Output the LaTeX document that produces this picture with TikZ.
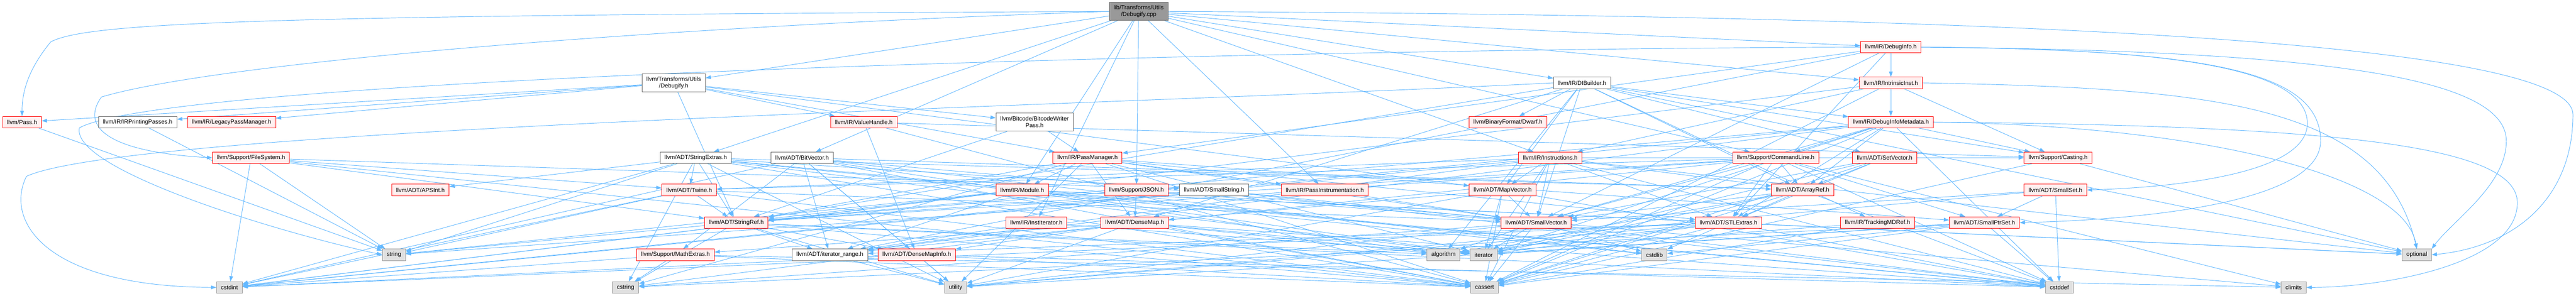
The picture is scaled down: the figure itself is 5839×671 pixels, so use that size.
\documentclass[tikz,border=0pt]{standalone}
\usepackage{fontspec}
\setmainfont{Liberation Sans}
\usetikzlibrary{arrows.meta, backgrounds}

\definecolor{edgeblue}{HTML}{63B8FF}
\definecolor{hdrred}{HTML}{FF0000}
\definecolor{hdrfill}{HTML}{FFF0F0}
\definecolor{docgray}{HTML}{666666}
\definecolor{sysline}{HTML}{999999}
\definecolor{sysfill}{HTML}{E0E0E0}

\begin{document}
\begin{tikzpicture}[
    x=1pt, y=-1pt,
    block/.style={draw, rectangle, line width=1.1pt, minimum height=26pt, inner xsep=10pt, inner ysep=2pt, font=\fontsize{13.3}{15.5}\selectfont, align=center},
    hdr/.style={block, draw=hdrred, fill=hdrfill},
    doc/.style={block, draw=docgray, fill=white},
    sys/.style={block, draw=sysline, fill=sysfill},
    rootbox/.style={block, draw=docgray, fill=sysline, minimum height=41pt},
    tall/.style={minimum height=41pt},
    arrow/.style={-{Triangle[length=12pt,width=8.5pt]}, draw=edgeblue, line width=1.1pt}
]
\useasboundingbox (0,0) rectangle (5839,671);

% Root file
\node[rootbox] (debugifycpp) at (2581,26) {lib/Transforms/Utils\\/Debugify.cpp};

% Direct includes
\node[hdr] (debuginfo) at (4286,107) {llvm/IR/DebugInfo.h};
\node[doc, tall] (debugifyh) at (1527,188) {llvm/Transforms/Utils\\/Debugify.h};
\node[doc] (dibuilder) at (3586,188) {llvm/IR/DIBuilder.h};
\node[hdr] (intrinsicinst) at (4286,188) {llvm/IR/IntrinsicInst.h};

% IR and pass headers
\node[hdr] (pass) at (50,277) {llvm/Pass.h};
\node[doc] (irprinting) at (312,277) {llvm/IR/IRPrintingPasses.h};
\node[hdr] (legacypm) at (525,277) {llvm/IR/LegacyPassManager.h};
\node[hdr] (valuehandle) at (1958,277) {llvm/IR/ValueHandle.h};
\node[doc, tall] (bcwriter) at (2345,277) {llvm/Bitcode/BitcodeWriter\\Pass.h};
\node[hdr] (dwarf) at (3418,277) {llvm/BinaryFormat/Dwarf.h};
\node[hdr] (dimetadata) at (4286,277) {llvm/IR/DebugInfoMetadata.h};

\node[hdr] (filesystem) at (569,358) {llvm/Support/FileSystem.h};
\node[doc] (stringextras) at (1577,358) {llvm/ADT/StringExtras.h};
\node[doc] (bitvector) at (1818,358) {llvm/ADT/BitVector.h};
\node[hdr] (passmanager) at (2465,358) {llvm/IR/PassManager.h};
\node[hdr] (instructions) at (3514,358) {llvm/IR/Instructions.h};
\node[hdr] (commandline) at (4025,358) {llvm/Support/CommandLine.h};
\node[hdr] (setvector) at (4272,358) {llvm/ADT/SetVector.h};
\node[hdr] (casting) at (4665,358) {llvm/Support/Casting.h};

% ADT headers
\node[hdr] (apsint) at (953,431) {llvm/ADT/APSInt.h};
\node[hdr] (twine) at (1562,431) {llvm/ADT/Twine.h};
\node[hdr] (module) at (2317,431) {llvm/IR/Module.h};
\node[hdr] (json) at (2576,431) {llvm/Support/JSON.h};
\node[doc] (smallstring) at (2752,431) {llvm/ADT/SmallString.h};
\node[hdr] (passinstr) at (3003,431) {llvm/IR/PassInstrumentation.h};
\node[hdr] (mapvector) at (3406,431) {llvm/ADT/MapVector.h};
\node[hdr] (arrayref) at (4086,431) {llvm/ADT/ArrayRef.h};
\node[hdr] (smallset) at (4659,431) {llvm/ADT/SmallSet.h};

\node[hdr] (stringref) at (1669,505) {llvm/ADT/StringRef.h};
\node[hdr] (institerator) at (2349,505) {llvm/IR/InstIterator.h};
\node[hdr] (densemap) at (2572,505) {llvm/ADT/DenseMap.h};
\node[hdr] (smallvector) at (3482,505) {llvm/ADT/SmallVector.h};
\node[hdr] (stlextras) at (3918,505) {llvm/ADT/STLExtras.h};
\node[hdr] (trackingmdref) at (4256,505) {llvm/IR/TrackingMDRef.h};
\node[hdr] (smallptrset) at (4498,505) {llvm/ADT/SmallPtrSet.h};

\node[sys] (string) at (893,578) {string};
\node[hdr] (mathextras) at (1531,578) {llvm/Support/MathExtras.h};
\node[doc] (iterrange) at (1881,578) {llvm/ADT/iterator\_range.h};
\node[hdr] (densemapinfo) at (2078,578) {llvm/ADT/DenseMapInfo.h};
\node[sys] (algorithm) at (3272,578) {algorithm};
\node[sys] (iterator) at (3363,578) {iterator};
\node[sys] (cstdlib) at (3750,578) {cstdlib};
\node[sys] (optional) at (5478,578) {optional};

% System headers
\node[sys] (cstdint) at (520,652) {cstdint};
\node[sys] (cstring) at (1418,652) {cstring};
\node[sys] (utility) at (2166,652) {utility};
\node[sys] (cassert) at (3365,652) {cassert};
\node[sys] (cstddef) at (4668,652) {cstddef};
\node[sys] (climits) at (5199,652) {climits};

\begin{pgfonlayer}{background}
% Arrows from the root
\draw[arrow] (debugifycpp) -- (debugifyh);
\draw[arrow] (debugifycpp) -- (bitvector);
\draw[arrow] (debugifycpp) -- (stringextras);
\draw[arrow] (debugifycpp) -- (dibuilder);
\draw[arrow] (debugifycpp) -- (debuginfo);
\draw[arrow] (debugifycpp) -- (institerator);
\draw[arrow] (debugifycpp) -- (instructions);
\draw[arrow] (debugifycpp) -- (intrinsicinst);
\draw[arrow] (debugifycpp) -- (module);
\draw[arrow] (debugifycpp) -- (passinstr);
\draw[arrow] (debugifycpp) -- (commandline);
\draw[arrow] (debugifycpp) -- (json);
\draw[arrow] (debugifycpp.west) .. controls (600,35) and (200,50) .. (115,95) .. controls (70,150) and (50,200) .. (pass.north);
\draw[arrow] (debugifycpp.west) .. controls (1500,60) and (500,140) .. (230,220) .. controls (180,290) and (250,345) .. (filesystem.west);
\draw[arrow] (debugifycpp.east) .. controls (4500,35) and (5832,90) .. (5832,260) .. controls (5832,450) and (5700,560) .. (optional.east);

% Debugify.h
\draw[arrow] (debugifyh) -- (mapvector);
\draw[arrow] (debugifyh) -- (stringref);
\draw[arrow] (debugifyh) -- (bcwriter);
\draw[arrow] (debugifyh) -- (irprinting);
\draw[arrow] (debugifyh) -- (legacypm);
\draw[arrow] (debugifyh) -- (passmanager);
\draw[arrow] (debugifyh) -- (valuehandle);
\draw[arrow] (debugifyh) -- (pass);

% Left side
\draw[arrow] (pass) -- (string);
\draw[arrow] (irprinting) -- (string);
\draw[arrow] (filesystem) -- (smallstring);
\draw[arrow] (filesystem) -- (stringref);
\draw[arrow] (filesystem) -- (twine);
\draw[arrow] (filesystem) -- (cassert);
\draw[arrow] (filesystem) -- (cstdint);
\draw[arrow] (filesystem) -- (string);

% StringExtras.h
\draw[arrow] (stringextras) -- (apsint);
\draw[arrow] (stringextras) -- (arrayref);
\draw[arrow] (stringextras) -- (smallstring);
\draw[arrow] (stringextras) -- (stringref);
\draw[arrow] (stringextras) -- (twine);
\draw[arrow] (stringextras) -- (cassert);
\draw[arrow] (stringextras) -- (cstddef);
\draw[arrow] (stringextras) -- (cstdint);
\draw[arrow] (stringextras) -- (cstdlib);
\draw[arrow] (stringextras) -- (cstring);
\draw[arrow] (stringextras) -- (iterator);
\draw[arrow] (stringextras) -- (string);
\draw[arrow] (stringextras) -- (utility);

% BitVector.h
\draw[arrow] (bitvector) -- (arrayref);
\draw[arrow] (bitvector) -- (densemapinfo);
\draw[arrow] (bitvector) -- (iterrange);
\draw[arrow] (bitvector) -- (mathextras);
\draw[arrow] (bitvector) -- (algorithm);
\draw[arrow] (bitvector) -- (cassert);
\draw[arrow] (bitvector) -- (climits);
\draw[arrow] (bitvector) -- (cstdint);
\draw[arrow] (bitvector) -- (cstdlib);
\draw[arrow] (bitvector) -- (utility);

% Twine.h and StringRef.h
\draw[arrow] (twine) -- (smallvector);
\draw[arrow] (twine) -- (stringref);
\draw[arrow] (twine) -- (cassert);
\draw[arrow] (twine) -- (cstdint);
\draw[arrow] (twine) -- (string);
\draw[arrow] (stringref) -- (densemapinfo);
\draw[arrow] (stringref) -- (iterrange);
\draw[arrow] (stringref) -- (algorithm);
\draw[arrow] (stringref) -- (cassert);
\draw[arrow] (stringref) -- (cstddef);
\draw[arrow] (stringref) -- (cstring);
\draw[arrow] (stringref) -- (string);
\draw[arrow] (stringref) -- (utility);

% MathExtras.h, iterator_range.h, DenseMapInfo.h
\draw[arrow] (mathextras) -- (cassert);
\draw[arrow] (mathextras) -- (climits);
\draw[arrow] (mathextras) -- (cstdint);
\draw[arrow] (mathextras) -- (cstring);
\draw[arrow] (iterrange) -- (utility);
\draw[arrow] (densemapinfo) -- (cassert);
\draw[arrow] (densemapinfo) -- (cstddef);
\draw[arrow] (densemapinfo) -- (cstdint);
\draw[arrow] (densemapinfo) -- (utility);

% ValueHandle.h and BitcodeWriterPass.h
\draw[arrow] (valuehandle) -- (densemapinfo);
\draw[arrow] (valuehandle) -- (casting);
\draw[arrow] (valuehandle) -- (cassert);
\draw[arrow] (bcwriter) -- (stringref);
\draw[arrow] (bcwriter) -- (passmanager);

% PassManager.h
\draw[arrow] (passmanager) -- (densemap);
\draw[arrow] (passmanager) -- (stlextras);
\draw[arrow] (passmanager) -- (smallptrset);
\draw[arrow] (passmanager) -- (smallvector);
\draw[arrow] (passmanager) -- (stringref);
\draw[arrow] (passmanager) -- (module);
\draw[arrow] (passmanager) -- (passinstr);
\draw[arrow] (passmanager) -- (cassert);
\draw[arrow] (passmanager) -- (cstring);
\draw[arrow] (passmanager) -- (iterator);
\draw[arrow] (passmanager) -- (utility);

% Module.h, JSON.h, SmallString.h, PassInstrumentation.h
\draw[arrow] (module) -- (stlextras);
\draw[arrow] (module) -- (stringref);
\draw[arrow] (module) -- (iterrange);
\draw[arrow] (module) -- (cstddef);
\draw[arrow] (module) -- (cstdint);
\draw[arrow] (module) -- (iterator);
\draw[arrow] (module) -- (optional);
\draw[arrow] (module) -- (string);
\draw[arrow] (json) -- (densemap);
\draw[arrow] (json) -- (smallvector);
\draw[arrow] (json) -- (stringref);
\draw[arrow] (smallstring) -- (smallvector);
\draw[arrow] (smallstring) -- (stringref);
\draw[arrow] (smallstring) -- (cstddef);
\draw[arrow] (passinstr) -- (smallvector);

% InstIterator.h and DenseMap.h
\draw[arrow] (institerator) -- (iterrange);
\draw[arrow] (institerator) -- (iterator);
\draw[arrow] (densemap) -- (densemapinfo);
\draw[arrow] (densemap) -- (mathextras);
\draw[arrow] (densemap) -- (algorithm);
\draw[arrow] (densemap) -- (cassert);
\draw[arrow] (densemap) -- (cstddef);
\draw[arrow] (densemap) -- (cstring);
\draw[arrow] (densemap) -- (iterator);
\draw[arrow] (densemap) -- (utility);

% DIBuilder.h
\draw[arrow] (dibuilder) -- (arrayref);
\draw[arrow] (dibuilder) -- (densemap);
\draw[arrow] (dibuilder) -- (mapvector);
\draw[arrow] (dibuilder) -- (setvector);
\draw[arrow] (dibuilder) -- (smallvector);
\draw[arrow] (dibuilder) -- (stringref);
\draw[arrow] (dibuilder) -- (dwarf);
\draw[arrow] (dibuilder) -- (dimetadata);
\draw[arrow] (dibuilder) -- (trackingmdref);
\draw[arrow] (dibuilder) -- (casting);
\draw[arrow] (dibuilder) -- (algorithm);
\draw[arrow] (dibuilder) -- (optional);
\draw[arrow] (dibuilder.west) .. controls (2500,240) and (300,290) .. (60,400) .. controls (10,500) and (100,650) .. (cstdint.west);

% Instructions.h
\draw[arrow] (instructions) -- (arrayref);
\draw[arrow] (instructions) -- (mapvector);
\draw[arrow] (instructions) -- (stlextras);
\draw[arrow] (instructions) -- (smallvector);
\draw[arrow] (instructions) -- (twine);
\draw[arrow] (instructions) -- (iterrange);
\draw[arrow] (instructions) -- (casting);
\draw[arrow] (instructions) -- (cassert);
\draw[arrow] (instructions) -- (cstddef);
\draw[arrow] (instructions) -- (cstdint);
\draw[arrow] (instructions) -- (iterator);
\draw[arrow] (instructions) -- (optional);

% CommandLine.h
\draw[arrow] (commandline) -- (arrayref);
\draw[arrow] (commandline) -- (stlextras);
\draw[arrow] (commandline) -- (smallptrset);
\draw[arrow] (commandline) -- (smallvector);
\draw[arrow] (commandline) -- (stringref);
\draw[arrow] (commandline) -- (twine);
\draw[arrow] (commandline) -- (iterrange);
\draw[arrow] (commandline) -- (cassert);
\draw[arrow] (commandline) -- (climits);
\draw[arrow] (commandline) -- (cstddef);
\draw[arrow] (commandline) -- (string);

% MapVector.h, SmallVector.h, STLExtras.h
\draw[arrow] (mapvector) -- (densemap);
\draw[arrow] (mapvector) -- (smallvector);
\draw[arrow] (mapvector) -- (cassert);
\draw[arrow] (mapvector) -- (cstddef);
\draw[arrow] (mapvector) -- (iterator);
\draw[arrow] (mapvector) -- (utility);
\draw[arrow] (smallvector) -- (algorithm);
\draw[arrow] (smallvector) -- (cassert);
\draw[arrow] (smallvector) -- (cstddef);
\draw[arrow] (smallvector) -- (cstdlib);
\draw[arrow] (smallvector) -- (cstring);
\draw[arrow] (smallvector) -- (iterator);
\draw[arrow] (smallvector) -- (utility);
\draw[arrow] (stlextras) -- (iterrange);
\draw[arrow] (stlextras) -- (algorithm);
\draw[arrow] (stlextras) -- (cassert);
\draw[arrow] (stlextras) -- (cstddef);
\draw[arrow] (stlextras) -- (cstdint);
\draw[arrow] (stlextras) -- (cstdlib);
\draw[arrow] (stlextras) -- (iterator);
\draw[arrow] (stlextras) -- (optional);
\draw[arrow] (stlextras) -- (utility);

% DebugInfo.h and IntrinsicInst.h
\draw[arrow] (debuginfo) -- (stlextras);
\draw[arrow] (debuginfo) -- (smallvector);
\draw[arrow] (debuginfo) -- (iterrange);
\draw[arrow] (debuginfo) -- (intrinsicinst);
\draw[arrow] (debuginfo) -- (passmanager);
\draw[arrow] (debuginfo.west) .. controls (3000,110) and (400,170) .. (180,290) .. controls (160,380) and (600,520) .. (string.west);
\draw[arrow] (debuginfo.east) .. controls (4900,110) and (5230,150) .. (5230,280) .. controls (5230,400) and (4900,426) .. (smallset.east);
\draw[arrow] (debuginfo.east) .. controls (5000,112) and (5260,160) .. (5260,320) .. controls (5260,470) and (4800,500) .. (smallptrset.east);
\draw[arrow] (debuginfo.east) .. controls (5300,115) and (5681,180) .. (5681,320) .. controls (5681,420) and (5560,500) .. (optional.north east);
\draw[arrow] (intrinsicinst) -- (dimetadata);
\draw[arrow] (intrinsicinst) -- (instructions);
\draw[arrow] (intrinsicinst) -- (casting);
\draw[arrow] (intrinsicinst) -- (cassert);
\draw[arrow] (intrinsicinst) -- (cstdint);
\draw[arrow] (intrinsicinst.east) .. controls (5000,200) and (5400,230) .. (optional.north);

% DebugInfoMetadata.h
\draw[arrow] (dimetadata) -- (arrayref);
\draw[arrow] (dimetadata) -- (stlextras);
\draw[arrow] (dimetadata) -- (smallvector);
\draw[arrow] (dimetadata) -- (stringref);
\draw[arrow] (dimetadata) -- (iterrange);
\draw[arrow] (dimetadata) -- (casting);
\draw[arrow] (dimetadata) -- (commandline);
\draw[arrow] (dimetadata) -- (cassert);
\draw[arrow] (dimetadata) -- (cstddef);
\draw[arrow] (dimetadata) -- (cstdint);
\draw[arrow] (dimetadata) -- (iterator);
\draw[arrow] (dimetadata.east) .. controls (5000,285) and (5450,400) .. (optional.north);
\draw[arrow] (dimetadata.east) .. controls (5300,285) and (5706,330) .. (5706,460) .. controls (5706,600) and (5400,652) .. (climits.east);

% Remaining ADT and Support headers
\draw[arrow] (setvector) -- (arrayref);
\draw[arrow] (setvector) -- (stlextras);
\draw[arrow] (setvector) -- (smallvector);
\draw[arrow] (setvector) -- (cassert);
\draw[arrow] (setvector) -- (iterator);
\draw[arrow] (casting) -- (cassert);
\draw[arrow] (casting) -- (optional);
\draw[arrow] (arrayref) -- (stlextras);
\draw[arrow] (arrayref) -- (smallvector);
\draw[arrow] (arrayref) -- (algorithm);
\draw[arrow] (arrayref) -- (cassert);
\draw[arrow] (arrayref) -- (cstddef);
\draw[arrow] (arrayref) -- (iterator);
\draw[arrow] (smallset) -- (smallptrset);
\draw[arrow] (smallset) -- (smallvector);
\draw[arrow] (smallset) -- (cstddef);
\draw[arrow] (smallset) -- (utility);
\draw[arrow] (trackingmdref) -- (algorithm);
\draw[arrow] (trackingmdref) -- (cassert);
\draw[arrow] (smallptrset) -- (cassert);
\draw[arrow] (smallptrset) -- (cstddef);
\draw[arrow] (smallptrset) -- (cstdlib);
\draw[arrow] (smallptrset) -- (cstring);
\draw[arrow] (smallptrset) -- (iterator);
\draw[arrow] (smallptrset) -- (utility);
\end{pgfonlayer}

\end{tikzpicture}
\end{document}
